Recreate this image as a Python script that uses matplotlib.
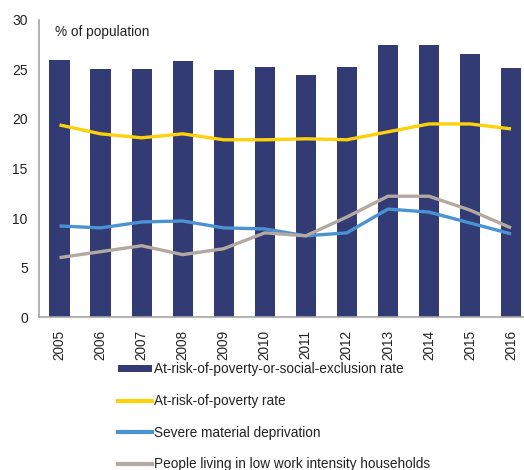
import numpy as np
import matplotlib
matplotlib.use("Agg")
import matplotlib.pyplot as plt
from matplotlib.patches import Patch
from matplotlib.lines import Line2D

plt.rcParams['font.family'] = ['Liberation Sans', 'DejaVu Sans']

# data (% of population)
years = ['2005', '2006', '2007', '2008', '2009', '2010',
         '2011', '2012', '2013', '2014', '2015', '2016']
arope = [26.0, 25.0, 25.0, 25.9, 24.9, 25.3, 24.4, 25.3, 27.5, 27.5, 26.6, 25.1]
arop = [19.4, 18.5, 18.1, 18.5, 17.9, 17.9, 18.0, 17.9, 18.7, 19.5, 19.5, 19.0]
smd = [9.2, 9.0, 9.6, 9.7, 9.0, 8.9, 8.2, 8.5, 10.9, 10.6, 9.5, 8.4]
lwi = [6.0, 6.6, 7.2, 6.3, 6.9, 8.5, 8.2, 10.1, 12.2, 12.2, 10.8, 9.0]

labels = ['At-risk-of-poverty-or-social-exclusion rate',
          'At-risk-of-poverty rate',
          'Severe material deprivation',
          'People living in low work intensity households']

navy = '#333B74'
yellow = '#FDD20A'
blue = '#4A92D2'
grey = '#B3A9A2'

fig = plt.figure(figsize=(5.24, 4.70), dpi=100)
ax = fig.add_axes([0.0744, 0.3255, 0.94, 0.632])

x = np.arange(len(years))
ax.bar(x, arope, width=0.49, color=navy, zorder=2)
for vals, c in [(arop, yellow), (smd, blue), (lwi, grey)]:
    ax.plot(x, vals, color=c, lw=2.4, zorder=3, solid_capstyle='butt')

ax.set_xlim(-0.5, 11.5)
ax.set_ylim(0, 30)
ax.set_yticks(np.arange(0, 31, 5))
ax.set_xticks(x)
ax.set_xticklabels(years, rotation=90, fontsize=9.8, color='#222222')
ax.tick_params(axis='y', labelsize=10, colors='#222222', length=0, pad=8)
ax.tick_params(axis='x', length=0, pad=9)

for s in ['top', 'right']:
    ax.spines[s].set_visible(False)
for s in ['left', 'bottom']:
    ax.spines[s].set_color('#A6A6A6')
    ax.spines[s].set_linewidth(1.2)

ax.text(0.032, 0.982, '% of population', transform=ax.transAxes,
        fontsize=9.8, color='#222222', va='top', ha='left')

handles = [Patch(facecolor=navy, edgecolor='none'),
           Line2D([], [], color=yellow, lw=3),
           Line2D([], [], color=blue, lw=3),
           Line2D([], [], color=grey, lw=3)]
fig.legend(handles, labels, loc='upper left', bbox_to_anchor=(0.225, 0.229),
           frameon=False, fontsize=9.8, handlelength=2.5, handleheight=0.5,
           handletextpad=0.15, labelspacing=1.3, borderpad=0, borderaxespad=0,
           labelcolor='#222222')

fig.savefig('out.png', dpi=100)
